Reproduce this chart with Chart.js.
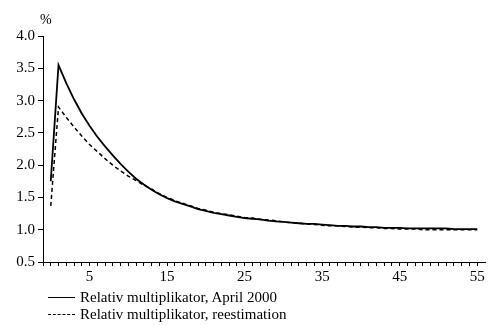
<!DOCTYPE html>
<html>
<head>
<meta charset="utf-8">
<script src="https://cdn.jsdelivr.net/npm/chart.js@4"></script>
<style>
  body { margin: 0; background: #fff; }
  .wrap { position: relative; width: 488px; height: 325px; font-family: "Liberation Serif", "Times New Roman", serif; color: #000; }
  .unit { position: absolute; left: 40px; top: 12px; font-size: 14px; }
  .legend { position: absolute; left: 48px; top: 289px; font-size: 15px; }
  .legend__row { display: flex; align-items: center; height: 17px; }
  .legend__line { width: 27px; margin-right: 5px; border-top: 1.5px solid #000; }
  .legend__line--dash { border-top-style: dashed; }
</style>
</head>
<body>
<div class="wrap">
  <canvas id="chart" width="488" height="325"></canvas>
  <div class="unit">%</div>
  <div class="legend" id="legend"></div>
</div>
<script>
// periods 0..55
const periods = Array.from({ length: 56 }, (_, i) => i);

const april2000 = [
  1.75, 3.55, 3.27, 3.02, 2.80, 2.61, 2.44, 2.29, 2.15, 2.02,
  1.90, 1.79, 1.70, 1.62, 1.55, 1.49, 1.44, 1.40, 1.36, 1.32,
  1.29, 1.26, 1.24, 1.22, 1.20, 1.18, 1.17, 1.16, 1.14, 1.13,
  1.12, 1.11, 1.10, 1.09, 1.09, 1.08, 1.07, 1.06, 1.06, 1.05,
  1.05, 1.04, 1.04, 1.03, 1.03, 1.03, 1.02, 1.02, 1.02, 1.02,
  1.02, 1.02, 1.01, 1.01, 1.01, 1.01
];

const reestimation = [
  1.37, 2.90, 2.74, 2.59, 2.45, 2.32, 2.21, 2.10, 2.00, 1.91,
  1.83, 1.76, 1.69, 1.63, 1.56, 1.50, 1.45, 1.41, 1.37, 1.33,
  1.30, 1.27, 1.25, 1.23, 1.21, 1.19, 1.18, 1.16, 1.15, 1.14,
  1.12, 1.11, 1.10, 1.09, 1.08, 1.07, 1.06, 1.06, 1.05, 1.04,
  1.04, 1.03, 1.03, 1.02, 1.02, 1.01, 1.01, 1.01, 1.00, 1.00,
  1.00, 1.00, 1.00, 1.00, 1.00, 1.00
];

const xLabels = [5, 15, 25, 35, 45, 55];
const seriesNames = ['Relativ multiplikator, April 2000', 'Relativ multiplikator, reestimation'];

const toPoints = (vals) => vals.map((v, i) => ({ x: periods[i], y: v }));

const tickFont = { family: '"Liberation Serif", "Times New Roman", serif', size: 15 };

const chart = new Chart(document.getElementById('chart'), {
  type: 'line',
  data: {
    datasets: [
      {
        label: seriesNames[0],
        data: toPoints(april2000),
        borderColor: '#000',
        borderWidth: 1.8,
        pointRadius: 0,
        tension: 0
      },
      {
        label: seriesNames[1],
        data: toPoints(reestimation),
        borderColor: '#000',
        borderWidth: 1.5,
        borderDash: [4, 3],
        pointRadius: 0,
        tension: 0
      }
    ]
  },
  options: {
    responsive: false,
    animation: false,
    layout: { padding: { top: 36, right: 3, bottom: 39, left: 0 } },
    plugins: { legend: { display: false }, tooltip: { enabled: false } },
    scales: {
      x: {
        type: 'linear',
        min: -1,
        max: 56,
        afterFit: (s) => { s.height = 24; },
        afterBuildTicks: (s) => { s.ticks = s.ticks.filter(t => t.value <= 55); },
        ticks: {
          stepSize: 1,
          autoSkip: false,
          maxRotation: 0,
          padding: 2,
          color: '#000',
          font: tickFont,
          callback: (v) => xLabels.includes(v) ? String(v) : ''
        },
        grid: { drawOnChartArea: false, tickLength: 4, color: '#000', lineWidth: 1 },
        border: { color: '#000', width: 1 }
      },
      y: {
        min: 0.5,
        max: 4.0,
        afterFit: (s) => { s.width = 43; },
        ticks: {
          stepSize: 0.5,
          padding: 3,
          color: '#000',
          font: tickFont,
          callback: (v) => v.toFixed(1)
        },
        grid: { drawOnChartArea: false, tickLength: 5, color: '#000', lineWidth: 1 },
        border: { color: '#000', width: 1 }
      }
    }
  }
});

// legend below the chart, built from the datasets
const legend = document.getElementById('legend');
chart.data.datasets.forEach((ds) => {
  const row = document.createElement('div');
  row.className = 'legend__row';
  const line = document.createElement('span');
  line.className = 'legend__line' + (ds.borderDash ? ' legend__line--dash' : '');
  const text = document.createElement('span');
  text.textContent = ds.label;
  row.appendChild(line);
  row.appendChild(text);
  legend.appendChild(row);
});
</script>
</body>
</html>
